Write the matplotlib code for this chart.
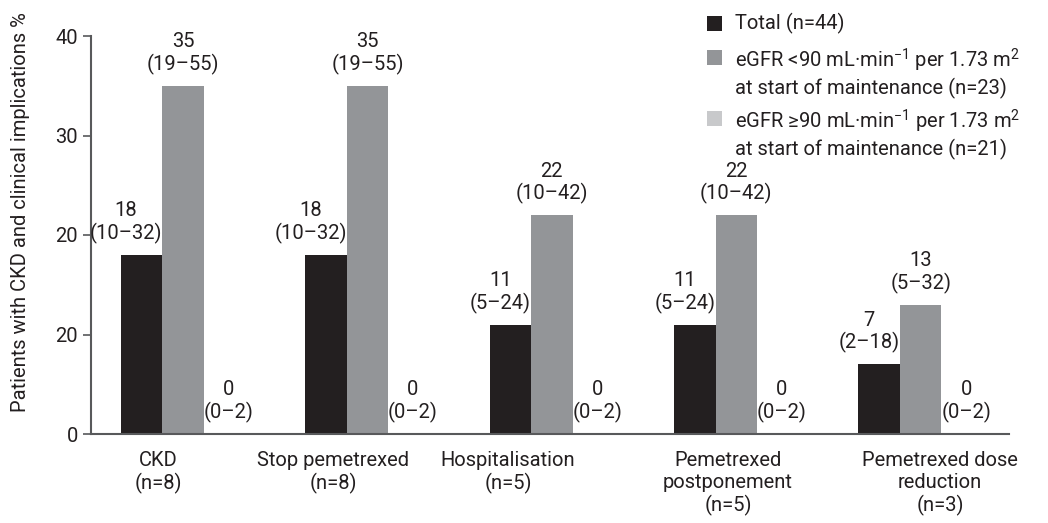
import matplotlib
matplotlib.use("Agg")
import matplotlib.pyplot as plt
import numpy as np
from matplotlib.patches import Rectangle

plt.rcParams['font.family'] = ['Roboto', 'DejaVu Sans']
plt.rcParams['mathtext.fontset'] = 'custom'
plt.rcParams['mathtext.rm'] = 'Roboto'

# Datos
categorias = ["CKD\n(n=8)", "Stop pemetrexed\n(n=8)", "Hospitalisation\n(n=5)",
              "Pemetrexed\npostponement\n(n=5)", "Pemetrexed dose\nreduction\n(n=3)"]
total = [18, 18, 11, 11, 7]
total_ic = ["10–32", "10–32", "5–24", "5–24", "2–18"]
egfr_bajo = [35, 35, 22, 22, 13]
egfr_bajo_ic = ["19–55", "19–55", "10–42", "10–42", "5–32"]
egfr_alto = [0, 0, 0, 0, 0]
egfr_alto_ic = ["0–2", "0–2", "0–2", "0–2", "0–2"]

y_ticks = [0, 10, 20, 30, 40]
y_ticklabels = ["0", "20", "20", "30", "40"]

leyenda = ["Total (n=44)",
           "eGFR <90 mL·min$\\mathregular{^{-1}}$ per 1.73 m$\\mathregular{^{2}}$\nat start of maintenance (n=23)",
           "eGFR ≥90 mL·min$\\mathregular{^{-1}}$ per 1.73 m$\\mathregular{^{2}}$\nat start of maintenance (n=21)"]

# Colores
c_total = '#231f20'
c_bajo = '#939598'
c_alto = '#c8c9cb'
c_eje = '#58595b'
c_texto = '#231f20'

# desplazamiento de las etiquetas del eje x respecto al centro del grupo
desplaz = [-0.136, -0.187, -0.238, -0.045, 0.105]

fs = 14.5
ancho = 0.225
x = np.arange(len(categorias))

fig = plt.figure(figsize=(10.48, 5.23), dpi=100)
ax = fig.add_axes([91/1048, 89/523, 918/1048, 398/523])

b1 = ax.bar(x - ancho, total, ancho, color=c_total)
b2 = ax.bar(x, egfr_bajo, ancho, color=c_bajo)
b3 = ax.bar(x + ancho, egfr_alto, ancho, color=c_alto)

# Etiquetas de valor sobre cada barra
for i in range(len(x)):
    ax.annotate(f"{total[i]}\n({total_ic[i]})", (x[i] - ancho/2, total[i]),
                xytext=(0, 11), textcoords='offset pixels', ha='right', va='bottom',
                multialignment='center', fontsize=fs, color=c_texto, linespacing=1.15)
    ax.annotate(f"{egfr_bajo[i]}\n({egfr_bajo_ic[i]})", (x[i], egfr_bajo[i]),
                xytext=(0, 11), textcoords='offset pixels', ha='center', va='bottom',
                multialignment='center', fontsize=fs, color=c_texto, linespacing=1.15)
    ax.annotate(f"{egfr_alto[i]}\n({egfr_alto_ic[i]})", (x[i] + ancho, egfr_alto[i]),
                xytext=(4, 11), textcoords='offset pixels', ha='center', va='bottom',
                multialignment='center', fontsize=fs, color=c_texto, linespacing=1.15)

ax.set_xlim(-0.499, 4.479)
ax.set_ylim(0, 40)
ax.set_yticks(y_ticks)
ax.set_yticklabels(y_ticklabels)
ax.set_xticks(x + np.array(desplaz))
ax.set_xticklabels(categorias, linespacing=1.2)
ax.tick_params(axis='x', length=0, pad=12, labelsize=fs, colors=c_texto)
ax.tick_params(axis='y', length=6, width=1.2, pad=3.5, labelsize=fs, color=c_eje, labelcolor=c_texto)

for s in ['top', 'right']:
    ax.spines[s].set_visible(False)
for s in ['left', 'bottom']:
    ax.spines[s].set_color(c_eje)
    ax.spines[s].set_linewidth(1.5)

ax.set_ylabel("Patients with CKD and clinical implications %", fontsize=fs, color=c_texto)
ax.yaxis.set_label_coords(-0.066, 0.558)

# Leyenda dibujada a mano (el cuadro alineado con la primera linea)
filas_y = [23, 57, 118]
for lab, col, yy in zip(leyenda, [c_total, c_bajo, c_alto], filas_y):
    fig.add_artist(Rectangle((707/1048, 1 - (yy + 7.5)/523), 15/1048, 15/523,
                             transform=fig.transFigure, color=col, lw=0))
    fig.text(735/1048, 1 - (yy - 10)/523, lab, fontsize=fs, va='top', ha='left',
             color=c_texto, linespacing=1.2)

fig.savefig('out.png', dpi=100)
